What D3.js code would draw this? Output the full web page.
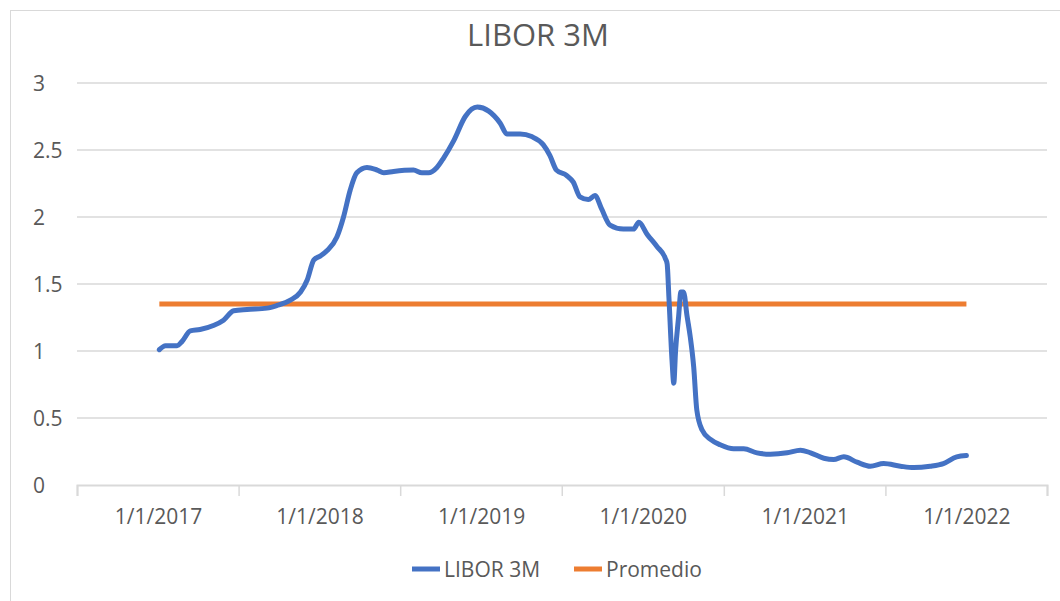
<!DOCTYPE html>
<meta charset="utf-8">
<style>
body { margin: 0; background: #fff; }
text { font-family: "Open Sans", "Liberation Sans", sans-serif; fill: #595959; }
.grid line { stroke: #d9d9d9; stroke-width: 1.5; }
</style>
<svg width="1060" height="601"></svg>
<script src="https://d3js.org/d3.v7.min.js"></script>
<script>

// LIBOR 3M
var liborDates = [
  "2017-01-03","2017-01-17","2017-02-12","2017-02-23","2017-03-14","2017-04-05","2017-05-05","2017-05-28",
  "2017-06-20","2017-07-20","2017-09-03","2017-09-26","2017-10-26","2017-11-18","2017-12-03","2017-12-18",
  "2018-01-02","2018-01-17","2018-02-08","2018-02-23","2018-03-10","2018-03-25","2018-04-17","2018-05-10",
  "2018-05-25","2018-06-16","2018-07-31","2018-08-19","2018-09-03","2018-09-22","2018-10-07","2018-10-30",
  "2018-11-25","2018-12-22","2019-01-17","2019-02-12","2019-02-27","2019-03-29","2019-04-24","2019-05-20",
  "2019-06-04","2019-06-19","2019-07-12","2019-07-27","2019-08-11","2019-08-30","2019-09-14","2019-09-29",
  "2019-10-18","2019-11-17","2019-12-10","2019-12-22","2020-01-10","2020-02-01","2020-02-20","2020-02-24",
  "2020-02-28","2020-03-06","2020-03-10","2020-03-14","2020-03-21","2020-03-26","2020-04-01","2020-04-09",
  "2020-04-16","2020-04-24","2020-05-01","2020-05-13","2020-06-01","2020-06-23","2020-07-23","2020-08-15",
  "2020-09-14","2020-10-14","2020-11-21","2020-12-21","2021-01-13","2021-02-12","2021-03-06","2021-03-29",
  "2021-04-28","2021-05-28","2021-06-27","2021-08-04","2021-09-03","2021-10-10","2021-11-09","2021-12-09",
  "2021-12-31"
];
var liborValues = [
  1.01, 1.04, 1.04, 1.07, 1.15, 1.16, 1.19, 1.23,
  1.30, 1.31, 1.32, 1.34, 1.38, 1.44, 1.53, 1.68,
  1.71, 1.75, 1.85, 2.00, 2.20, 2.33, 2.37, 2.35,
  2.33, 2.34, 2.35, 2.33, 2.33, 2.37, 2.44, 2.57,
  2.75, 2.82, 2.79, 2.70, 2.62, 2.62, 2.60, 2.54,
  2.46, 2.35, 2.31, 2.26, 2.15, 2.13, 2.16, 2.06,
  1.94, 1.91, 1.91, 1.96, 1.87, 1.78, 1.69, 1.65,
  1.40, 0.93, 0.76, 1.00, 1.26, 1.44, 1.44, 1.26,
  1.11, 0.88, 0.56, 0.41, 0.34, 0.30, 0.27, 0.27,
  0.24, 0.23, 0.24, 0.26, 0.24, 0.20, 0.19, 0.21,
  0.17, 0.14, 0.16, 0.14, 0.13, 0.14, 0.16, 0.21,
  0.22
];
var promedioValue = 1.35;

var yTicks = [0, 0.5, 1, 1.5, 2, 2.5, 3];
var xTickLabels = ["1/1/2017", "1/1/2018", "1/1/2019", "1/1/2020", "1/1/2021", "1/1/2022"];
var seriesNames = ["LIBOR 3M", "Promedio"];
var seriesColors = ["#4472c4", "#ed7d31"];

var parseDate = d3.utcParse("%Y-%m-%d"),
    parseLabel = d3.utcParse("%m/%d/%Y");

var data = liborDates.map(function(d, i) { return {date: parseDate(d), value: liborValues[i]}; });
var labelDates = xTickLabels.map(parseLabel);
// tick marks sit half a year before each label, plus one at the end
var markDates = labelDates.map(function(d) { return d3.utcMonth.offset(d, -6); });
markDates.push(d3.utcMonth.offset(labelDates[labelDates.length - 1], 6));

var svg = d3.select("svg");

svg.append("rect")
    .attr("x", 10.5).attr("y", 10.5)
    .attr("width", 1060).attr("height", 600)
    .attr("fill", "#fff").attr("stroke", "#d9d9d9");

var x = d3.scaleUtc()
    .domain([markDates[0], markDates[markDates.length - 1]])
    .range([77, 1047]);
var y = d3.scaleLinear().domain([0, 3]).range([485, 83]);

// gridlines
svg.append("g").attr("class", "grid")
  .selectAll("line")
  .data(yTicks.slice(1))
  .enter().append("line")
    .attr("x1", 77).attr("x2", 1047)
    .attr("y1", function(d) { return y(d); })
    .attr("y2", function(d) { return y(d); });

// y labels
svg.append("g")
  .selectAll("text")
  .data(yTicks)
  .enter().append("text")
    .attr("x", 33)
    .attr("y", function(d) { return y(d); })
    .attr("dy", "0.36em")
    .style("font-size", "21px")
    .text(function(d) { return d; });

// x axis: marks between years, labels on 1/1
var xAxis = svg.append("g")
    .attr("transform", "translate(0,485)")
    .call(d3.axisBottom(x).tickValues(markDates).tickSize(11).tickFormat(""));
xAxis.select(".domain").attr("stroke", "#d9d9d9").attr("stroke-width", 2);
xAxis.selectAll(".tick line").attr("stroke", "#d9d9d9").attr("stroke-width", 1.5);

svg.append("g")
  .selectAll("text")
  .data(labelDates)
  .enter().append("text")
    .attr("x", function(d) { return x(d); })
    .attr("y", 524)
    .attr("text-anchor", "middle")
    .style("font-size", "21px")
    .text(function(d, i) { return xTickLabels[i]; });

// promedio
var first = data[0].date, last = data[data.length - 1].date;
svg.append("line")
    .attr("x1", x(first)).attr("x2", x(last))
    .attr("y1", y(promedioValue)).attr("y2", y(promedioValue))
    .attr("stroke", seriesColors[1]).attr("stroke-width", 5);

// libor line
svg.append("path")
    .datum(data)
    .attr("fill", "none")
    .attr("stroke", seriesColors[0])
    .attr("stroke-width", 5)
    .attr("stroke-linejoin", "round")
    .attr("stroke-linecap", "round")
    .attr("d", d3.line()
        .curve(d3.curveMonotoneX)
        .x(function(d) { return x(d.date); })
        .y(function(d) { return y(d.value); }));

// title
svg.append("text")
    .attr("x", 538).attr("y", 46)
    .attr("text-anchor", "middle")
    .style("font-size", "31px")
    .text("LIBOR 3M");

// legend
var legendX = [412, 574];
var legend = svg.append("g")
  .selectAll("g")
  .data(seriesNames)
  .enter().append("g")
    .attr("transform", function(d, i) { return "translate(" + legendX[i] + ",569)"; });
legend.append("line")
    .attr("x1", 0).attr("x2", 28)
    .attr("stroke", function(d, i) { return seriesColors[i]; })
    .attr("stroke-width", 5);
legend.append("text")
    .attr("x", 32).attr("dy", "0.36em")
    .style("font-size", "21px")
    .text(function(d) { return d; });

</script>
